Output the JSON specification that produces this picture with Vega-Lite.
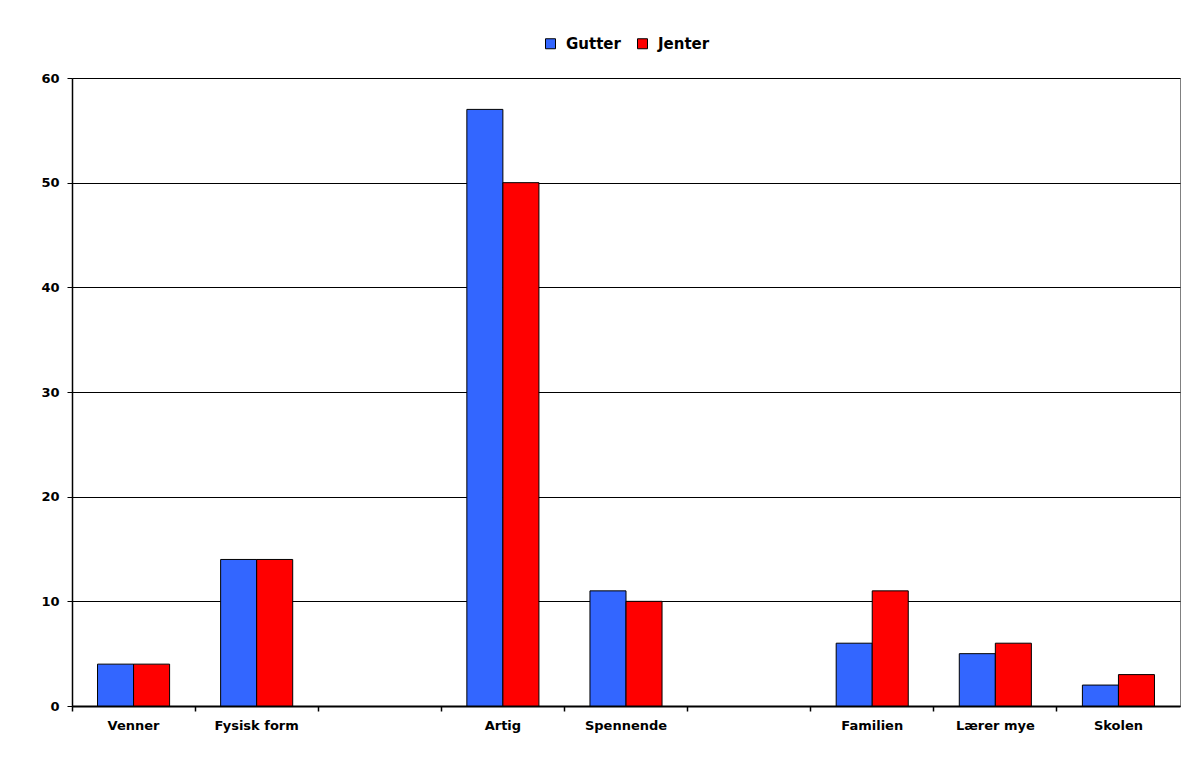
{
  "$schema": "https://vega.github.io/schema/vega-lite/v6.json",
  "autosize": {"type": "none"},
  "padding": {"left": 72, "top": 78, "right": 18, "bottom": 54},
  "width": 1108,
  "height": 628,
  "background": "white",
  "data": {
    "values": [
      {"kategori": "Venner", "kjonn": "Gutter", "verdi": 4},
      {"kategori": "Venner", "kjonn": "Jenter", "verdi": 4},
      {"kategori": "Fysisk form", "kjonn": "Gutter", "verdi": 14},
      {"kategori": "Fysisk form", "kjonn": "Jenter", "verdi": 14},
      {"kategori": "Artig", "kjonn": "Gutter", "verdi": 57},
      {"kategori": "Artig", "kjonn": "Jenter", "verdi": 50},
      {"kategori": "Spennende", "kjonn": "Gutter", "verdi": 11},
      {"kategori": "Spennende", "kjonn": "Jenter", "verdi": 10},
      {"kategori": "Familien", "kjonn": "Gutter", "verdi": 6},
      {"kategori": "Familien", "kjonn": "Jenter", "verdi": 11},
      {"kategori": "Lærer mye", "kjonn": "Gutter", "verdi": 5},
      {"kategori": "Lærer mye", "kjonn": "Jenter", "verdi": 6},
      {"kategori": "Skolen", "kjonn": "Gutter", "verdi": 2},
      {"kategori": "Skolen", "kjonn": "Jenter", "verdi": 3}
    ]
  },
  "mark": {"type": "bar", "stroke": "black", "strokeWidth": 1},
  "encoding": {
    "x": {
      "field": "kategori",
      "type": "nominal",
      "sort": null,
      "scale": {
        "domain": ["Venner", "Fysisk form", "_a", "Artig", "Spennende", "_b", "Familien", "Lærer mye", "Skolen"],
        "paddingInner": 0,
        "paddingOuter": 0
      },
      "axis": {
        "title": null,
        "labelAngle": 0,
        "bandPosition": 0,
        "labelExpr": "indexof(datum.value, '_') == 0 ? '' : datum.value",
        "domainColor": "black",
        "domainWidth": 2,
        "tickColor": "black",
        "tickWidth": 1.5,
        "tickSize": 5,
        "labelFont": "DejaVu Sans",
        "labelFontWeight": "bold",
        "labelFontSize": 13,
        "labelColor": "black",
        "labelPadding": 8,
        "grid": false
      }
    },
    "xOffset": {
      "field": "kjonn",
      "type": "nominal",
      "scale": {"paddingInner": 0, "paddingOuter": 0.708}
    },
    "y": {
      "field": "verdi",
      "type": "quantitative",
      "scale": {"domain": [0, 60], "nice": false},
      "axis": {
        "title": null,
        "values": [0, 10, 20, 30, 40, 50, 60],
        "grid": true,
        "gridColor": "black",
        "gridWidth": 1,
        "gridOpacity": 1,
        "domainColor": "black",
        "domainWidth": 1.5,
        "tickColor": "black",
        "tickSize": 5,
        "labelFont": "DejaVu Sans",
        "labelFontWeight": "bold",
        "labelFontSize": 13,
        "labelColor": "black",
        "labelPadding": 8
      }
    },
    "color": {
      "field": "kjonn",
      "type": "nominal",
      "scale": {"domain": ["Gutter", "Jenter"], "range": ["#3366FF", "#FF0000"]},
      "legend": {
        "title": null,
        "orient": "none",
        "direction": "horizontal",
        "legendX": 471,
        "legendY": -42,
        "symbolType": "square",
        "symbolSize": 100,
        "symbolStrokeColor": "black",
        "symbolStrokeWidth": 1,
        "symbolOpacity": 1,
        "labelFont": "DejaVu Sans",
        "labelFontWeight": "bold",
        "labelFontSize": 15,
        "labelColor": "black",
        "labelOffset": 8,
        "columnPadding": 14,
        "padding": 0
      }
    }
  },
  "config": {
    "view": {"stroke": "#808080", "strokeWidth": 1}
  }
}
